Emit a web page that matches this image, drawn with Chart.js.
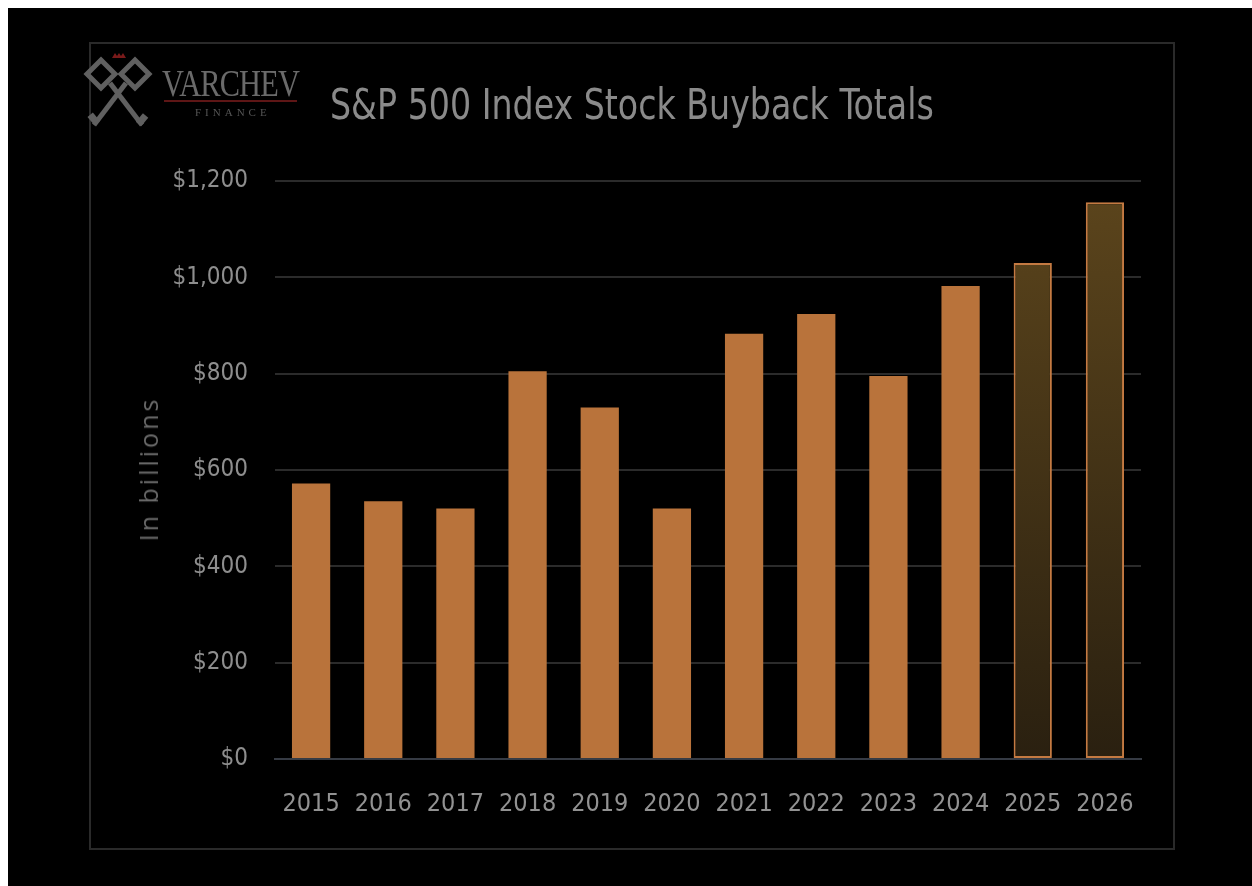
<!DOCTYPE html>
<html>
<head>
<meta charset="utf-8">
<script src="https://cdn.jsdelivr.net/npm/chart.js@4.4.1/dist/chart.umd.min.js"></script>
<style>
  html, body { margin: 0; padding: 0; background: #fff; }
  #stage { position: absolute; left: 8px; top: 8px; width: 1244px; height: 878px; background: #000; overflow: hidden; }
  #frame { position: absolute; left: 81px; top: 34px; width: 1082px; height: 804px; border: 2px solid #2a2a2a; }
  #chart { position: absolute; left: -8px; top: -8px; }
  #title { position: absolute; left: 322px; top: 72px; font-family: "DejaVu Sans Condensed", sans-serif; font-size: 42px; color: #8a8a8a; white-space: nowrap; transform: scaleX(0.88); transform-origin: left top; }
  #ylabel { position: absolute; left: 140px; top: 461px; transform: translate(-50%, -50%) rotate(-90deg); font-family: "Open Sans", sans-serif; font-size: 25px; letter-spacing: 3px; color: #6a6a6a; white-space: nowrap; }
  #logo { position: absolute; left: 72px; top: 42px; }
  .brand { position: absolute; font-family: "Liberation Serif", "DejaVu Serif", serif; color: #6a6a6a; white-space: nowrap; }
</style>
</head>
<body>
<div id="stage">
  <div id="frame"></div>
  <canvas id="chart" width="1252" height="886"></canvas>
  <svg id="logo" width="90" height="90" viewBox="0 0 90 90">
    <path d="M32 8 l3 -5 l2 3 l2 -3 l2 3 l2 -3 l3 5 z" fill="#7a1a1a"/>
    <g fill="none" stroke="#606060" stroke-width="5">
      <path d="M21 10 l14 14 l-14 14 l-14 -14 z"/>
      <path d="M55 10 l14 14 l-14 14 l-14 -14 z"/>
      <path d="M30 33 l32 42"/>
      <path d="M46 33 l-32 42"/>
    </g>
    <g fill="#606060">
      <rect x="10" y="64" width="7" height="11" transform="rotate(-40 13 69)"/>
      <rect x="59" y="64" width="7" height="11" transform="rotate(40 62 69)"/>
    </g>
  </svg>
  <div class="brand" style="left:154px; top:54px; font-size:37px; letter-spacing:-1px; transform:scaleX(0.82); transform-origin:left top;">VARCHEV</div>
  <div style="position:absolute; left:156px; top:92px; width:133px; height:2px; background:#5e1616;"></div>
  <div class="brand" style="left:187px; top:98px; font-size:11px; letter-spacing:4px; color:#555;">FINANCE</div>
  <div id="title">S&amp;P 500 Index Stock Buyback Totals</div>
  <div id="ylabel">In billions</div>
</div>
<script>
  const years = ["2015", "2016", "2017", "2018", "2019", "2020", "2021", "2022", "2023", "2024", "2025", "2026"];
  const buybacks = [572, 535, 520, 805, 730, 520, 883, 924, 795, 982, 1030, 1156];
  const projected = [false, false, false, false, false, false, false, false, false, false, true, true];
  const yTicks = [0, 200, 400, 600, 800, 1000, 1200];

  const copper = "#b9733b";
  const tickFont = "'DejaVu Sans Condensed', 'DejaVu Sans', sans-serif";
  const canvas = document.getElementById("chart");
  const ctx = canvas.getContext("2d");

  // degradado para los años proyectados
  function forecastFill(context) {
    const area = context.chart.chartArea;
    if (!area) return "#4a3818";
    const g = context.chart.ctx.createLinearGradient(0, area.top, 0, area.bottom);
    g.addColorStop(0, "#5c451c");
    g.addColorStop(1, "#2a2010");
    return g;
  }

  new Chart(ctx, {
    type: "bar",
    data: {
      labels: years,
      datasets: [{
        label: "Buybacks",
        data: buybacks,
        backgroundColor: c => projected[c.dataIndex] ? forecastFill(c) : copper,
        borderColor: c => projected[c.dataIndex] ? "#c47a42" : copper,
        borderWidth: c => projected[c.dataIndex] ? 2 : 0,
        borderSkipped: false,
        categoryPercentage: 1,
        barPercentage: 0.53
      }]
    },
    options: {
      responsive: false,
      animation: false,
      layout: { padding: { left: 130, top: 181, right: 111, bottom: 57 } },
      plugins: { legend: { display: false }, tooltip: { enabled: false } },
      scales: {
        x: {
          afterFit: s => { s.height = 70; },
          grid: { display: false },
          border: { color: "#363b44", width: 2 },
          ticks: { color: "#929292", padding: 22, font: { family: tickFont, size: 25 } }
        },
        y: {
          min: 0,
          max: 1200,
          afterFit: s => { s.width = 145; },
          afterBuildTicks: s => { s.ticks = yTicks.map(v => ({ value: v })); },
          border: { display: false },
          grid: {
            color: c => c.tick && c.tick.value === 0 ? "#363b44" : "#2b2b2b",
            lineWidth: 2,
            drawTicks: false
          },
          ticks: {
            color: "#8e8e8e",
            padding: 27,
            font: { family: tickFont, size: 24 },
            callback: v => "$" + v.toLocaleString("en-US")
          }
        }
      }
    }
  });
</script>
</body>
</html>
